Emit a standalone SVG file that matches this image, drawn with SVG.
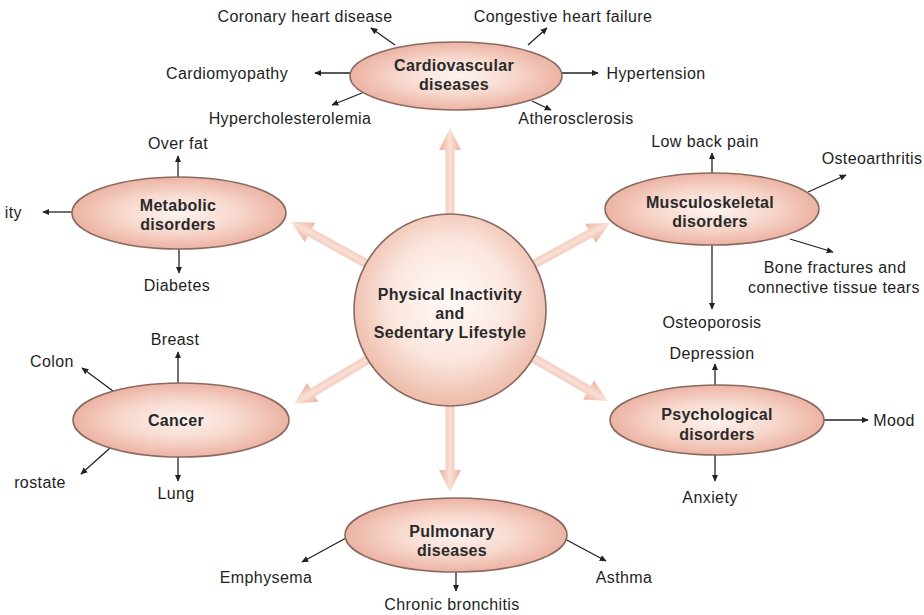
<svg xmlns="http://www.w3.org/2000/svg" width="924" height="615" viewBox="0 0 924 615">
<defs>
<radialGradient id="eg" cx="50%" cy="50%" r="50%">
<stop offset="0" stop-color="#fdf4f0"/>
<stop offset="0.55" stop-color="#f7d7cc"/>
<stop offset="1" stop-color="#ecb3a3"/>
</radialGradient>
<radialGradient id="cg" cx="50%" cy="45%" r="52%">
<stop offset="0" stop-color="#fffaf8"/>
<stop offset="0.6" stop-color="#fbe6de"/>
<stop offset="1" stop-color="#efbfae"/>
</radialGradient>
<linearGradient id="ag" gradientUnits="userSpaceOnUse" x1="0" y1="-11" x2="0" y2="11">
<stop offset="0" stop-color="#eeb09c"/>
<stop offset="0.5" stop-color="#f9e0d6"/>
<stop offset="1" stop-color="#eeb09c"/>
</linearGradient>
<path id="big" d="M85,-4.5 L160,-4.5 L160,-11 L182,0 L160,11 L160,4.5 L85,4.5 Z" fill="url(#ag)"/>
<marker id="ah" viewBox="0 0 10 10" refX="9" refY="5" markerWidth="7" markerHeight="7" orient="auto" markerUnits="userSpaceOnUse">
<path d="M0,0.5 L10,5 L0,9.5 Z" fill="#222"/>
</marker>
</defs>
<style>
.lbl{font-family:"Liberation Sans",Arial,sans-serif;font-size:16px;letter-spacing:0.4px;fill:#1e1e1e;text-anchor:middle}
.nd{font-family:"Liberation Sans",Arial,sans-serif;font-size:16px;font-weight:bold;letter-spacing:0.3px;fill:#2a2a2a;text-anchor:middle}
.ell{fill:url(#eg);stroke:#8a6a60;stroke-width:1.6}
.ln{stroke:#222;stroke-width:1.3;fill:none;marker-end:url(#ah)}
</style>
<rect width="924" height="615" fill="#ffffff"/>

<g id="big-arrows">
<use href="#big" transform="translate(450,310) rotate(-90)"/>
<use href="#big" transform="translate(450,310) rotate(90)"/>
<use href="#big" transform="translate(450,310) rotate(-151)"/>
<use href="#big" transform="translate(450,310) rotate(-28.6)"/>
<use href="#big" transform="translate(450,310) rotate(149)"/>
<use href="#big" transform="translate(450,310) rotate(30)"/>
</g>

<g id="connectors">
<line class="ln" x1="395" y1="45" x2="371" y2="28"/>
<line class="ln" x1="528" y1="45" x2="547" y2="28"/>
<line class="ln" x1="350" y1="73" x2="315" y2="73"/>
<line class="ln" x1="562" y1="73" x2="598" y2="73"/>
<line class="ln" x1="362" y1="93" x2="332" y2="105"/>
<line class="ln" x1="532" y1="101" x2="551" y2="110"/>

<line class="ln" x1="178" y1="177" x2="178" y2="156"/>
<line class="ln" x1="72" y1="212" x2="43" y2="212"/>
<line class="ln" x1="179" y1="249" x2="179" y2="273"/>

<line class="ln" x1="712" y1="174" x2="712" y2="153"/>
<line class="ln" x1="808" y1="192" x2="846" y2="175"/>
<line class="ln" x1="790" y1="239" x2="833" y2="252"/>
<line class="ln" x1="712" y1="245" x2="712" y2="309"/>

<line class="ln" x1="715" y1="385" x2="715" y2="364"/>
<line class="ln" x1="824" y1="420" x2="868" y2="420"/>
<line class="ln" x1="715" y1="455" x2="715" y2="481"/>

<line class="ln" x1="178" y1="383" x2="178" y2="352"/>
<line class="ln" x1="113" y1="391" x2="82" y2="368"/>
<line class="ln" x1="110" y1="448" x2="81" y2="474"/>
<line class="ln" x1="178" y1="457" x2="178" y2="481"/>

<line class="ln" x1="346" y1="538" x2="302" y2="562"/>
<line class="ln" x1="563" y1="538" x2="606" y2="561"/>
<line class="ln" x1="456" y1="572" x2="456" y2="591"/>
</g>

<g id="center">
<circle cx="450" cy="310" r="96" fill="url(#cg)" stroke="#8a6a60" stroke-width="1.6"/>
<text class="nd" x="450" y="300">Physical Inactivity</text>
<text class="nd" x="450" y="319">and</text>
<text class="nd" x="450" y="338">Sedentary Lifestyle</text>
</g>

<g id="cardiovascular">
<ellipse class="ell" cx="456" cy="76" rx="106" ry="34"/>
<text class="nd" x="454" y="71">Cardiovascular</text>
<text class="nd" x="454" y="90">diseases</text>
</g>
<g id="cardio-labels">
<text class="lbl" x="305" y="22">Coronary heart disease</text>
<text class="lbl" x="563" y="22">Congestive heart failure</text>
<text class="lbl" x="227" y="79">Cardiomyopathy</text>
<text class="lbl" x="656" y="79">Hypertension</text>
<text class="lbl" x="290" y="124">Hypercholesterolemia</text>
<text class="lbl" x="576" y="124">Atherosclerosis</text>
</g>

<g id="metabolic">
<ellipse class="ell" cx="179" cy="213" rx="107" ry="36"/>
<text class="nd" x="178" y="211">Metabolic</text>
<text class="nd" x="178" y="230">disorders</text>
</g>
<g id="metabolic-labels">
<text class="lbl" x="178" y="149">Over fat</text>
<text class="lbl" x="22" y="218" style="text-anchor:end">ity</text>
<text class="lbl" x="177" y="291">Diabetes</text>
</g>

<g id="musculoskeletal">
<ellipse class="ell" cx="712" cy="209" rx="107" ry="36"/>
<text class="nd" x="710" y="208">Musculoskeletal</text>
<text class="nd" x="710" y="227">disorders</text>
</g>
<g id="musculo-labels">
<text class="lbl" x="705" y="147">Low back pain</text>
<text class="lbl" x="872" y="164">Osteoarthritis</text>
<text class="lbl" x="835" y="273">Bone fractures and</text>
<text class="lbl" x="834" y="293">connective tissue tears</text>
<text class="lbl" x="712" y="328">Osteoporosis</text>
</g>

<g id="psychological">
<ellipse class="ell" cx="717" cy="420" rx="107" ry="35"/>
<text class="nd" x="717" y="420">Psychological</text>
<text class="nd" x="717" y="440">disorders</text>
</g>
<g id="psych-labels">
<text class="lbl" x="712" y="359">Depression</text>
<text class="lbl" x="894" y="426">Mood</text>
<text class="lbl" x="710" y="503">Anxiety</text>
</g>

<g id="cancer">
<ellipse class="ell" cx="181" cy="420" rx="108" ry="37"/>
<text class="nd" x="176" y="426">Cancer</text>
</g>
<g id="cancer-labels">
<text class="lbl" x="175" y="345">Breast</text>
<text class="lbl" x="52" y="367">Colon</text>
<text class="lbl" x="40" y="488">rostate</text>
<text class="lbl" x="176" y="499">Lung</text>
</g>

<g id="pulmonary">
<ellipse class="ell" cx="456" cy="535" rx="111" ry="37"/>
<text class="nd" x="452" y="537">Pulmonary</text>
<text class="nd" x="452" y="556">diseases</text>
</g>
<g id="pulmonary-labels">
<text class="lbl" x="266" y="583">Emphysema</text>
<text class="lbl" x="624" y="583">Asthma</text>
<text class="lbl" x="452" y="610">Chronic bronchitis</text>
</g>
</svg>
